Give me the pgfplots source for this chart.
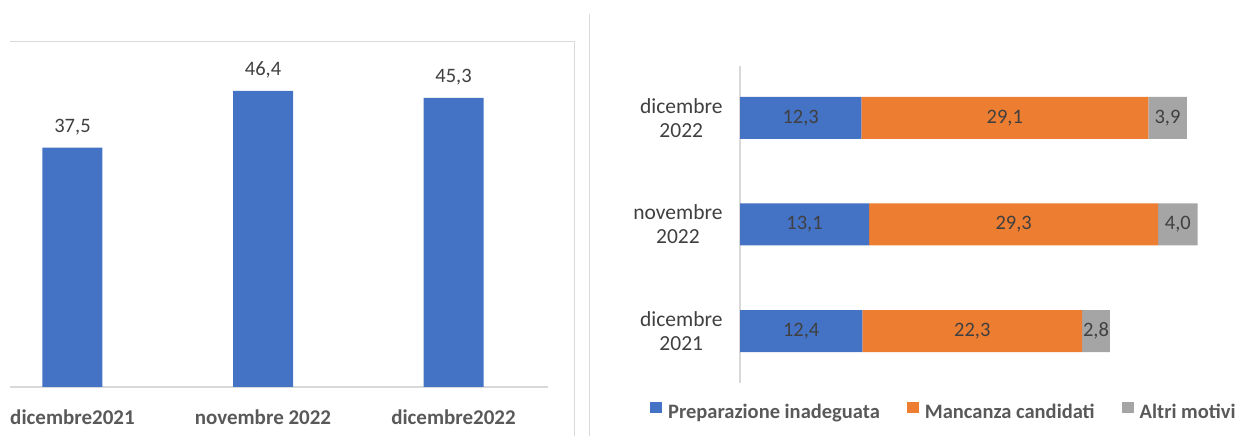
\documentclass[border=0pt]{standalone}
\usepackage{fontspec}
\setmainfont{Carlito}
\usepackage{pgfplots}
\pgfplotsset{compat=1.18}
\definecolor{cblue}{HTML}{4472C4}
\definecolor{corange}{HTML}{ED7D31}
\definecolor{cgray}{HTML}{A5A5A5}
\definecolor{gridc}{HTML}{D9D9D9}
\definecolor{txt}{HTML}{404040}
\definecolor{txtb}{HTML}{595959}
\begin{document}
\begin{tikzpicture}[x=1pt,y=1pt]
\useasboundingbox (0,0) rectangle (1251,436);
\draw[gridc, line width=1pt] (10,394) -- (574,394) -- (574,0);
\draw[gridc, line width=1pt] (589,422) -- (589,0);

\begin{axis}[
  at={(10pt,49pt)}, anchor=south west, scale only axis,
  width=538pt, height=344pt,
  xmin=-0.328, xmax=2.496, ymin=0, ymax=53.9,
  axis x line*=bottom, axis y line=none,
  x axis line style={gridc, line width=1.5pt, -},
  xtick={0,1,2}, xticklabels={dicembre2021, novembre 2022, dicembre2022},
  xtick style={draw=none},
  xticklabel style={font=\fontsize{21}{25}\selectfont\bfseries, text=txtb, anchor=base, yshift=-33pt},
  ybar, bar width=60pt,
  nodes near coords={\pgfmathprintnumber[fixed,fixed zerofill,precision=1,use comma,assume math mode=true]{\pgfplotspointmeta}},
  every node near coord/.append style={font=\fontsize{20.5}{24}\selectfont, text=txt, anchor=base, yshift=15pt},
  clip=false,
]
\addplot[fill=cblue, draw=none] coordinates {(0,37.5) (1,46.4) (2,45.3)};
\end{axis}

\begin{axis}[
  at={(740pt,53pt)}, anchor=south west, scale only axis,
  width=500pt, height=317pt,
  xmin=0, xmax=50.7, ymin=-0.488, ymax=2.488,
  xbar stacked, bar width=42pt,
  axis y line*=left, axis x line=none,
  y axis line style={gridc, line width=1.5pt, -},
  ytick={0,1,2}, yticklabels={{dicembre\\2021},{novembre\\2022},{dicembre\\2022}},
  ytick style={draw=none},
  yticklabel style={font=\fontsize{21.5}{24}\selectfont, text=txt, align=center, xshift=-14pt},
  legend columns=3,
  legend style={draw=none, fill=none, at={(axis description cs:-0.186,-0.0915)}, anchor=west,
    font=\fontsize{20.5}{25}\selectfont\bfseries, text=txtb,
    /tikz/every odd column/.append style={column sep=4pt},
    /tikz/every even column/.append style={column sep=25pt}},
  legend image code/.code={\fill[#1] (0pt,-1pt) rectangle (12pt,10pt);},
  clip=false,
]
\addplot[fill=cblue, draw=none] coordinates {(12.4,0) (13.1,1) (12.3,2)};
\addplot[fill=corange, draw=none] coordinates {(22.3,0) (29.3,1) (29.1,2)};
\addplot[fill=cgray, draw=none] coordinates {(2.8,0) (4.0,1) (3.9,2)};
\legend{Preparazione inadeguata, Mancanza candidati, Altri motivi}
\end{axis}

\begin{axis}[
  at={(740pt,53pt)}, anchor=south west, scale only axis,
  width=500pt, height=317pt,
  xmin=0, xmax=50.7, ymin=-0.488, ymax=2.488,
  hide axis, clip=false,
]
\addplot[only marks, mark=none, nodes near coords, point meta=explicit symbolic,
  every node near coord/.append style={anchor=center, font=\fontsize{20.5}{24}\selectfont, text=txt}]
  table[x=x, y=y, meta=lab] {
x y lab
6.2 0 12,4
23.55 0 22,3
36.1 0 2,8
6.55 1 13,1
27.75 1 29,3
44.4 1 4,0
6.15 2 12,3
26.85 2 29,1
43.35 2 3,9
};
\end{axis}
\end{tikzpicture}
\end{document}
